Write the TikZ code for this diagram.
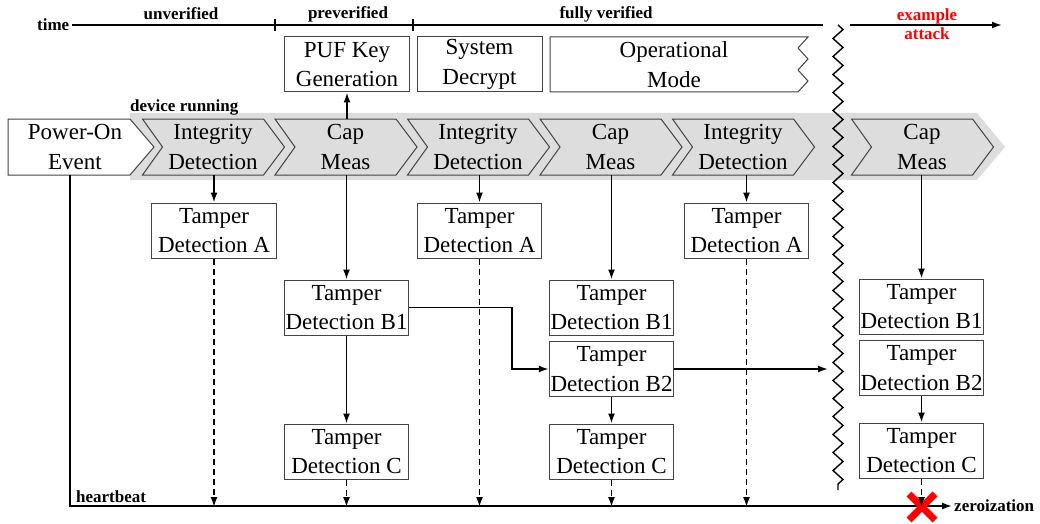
\documentclass[tikz,border=0pt]{standalone}
\usepackage{fontspec}
\setmainfont{Liberation Serif}
\usetikzlibrary{arrows.meta,decorations.pathmorphing}
\definecolor{band}{HTML}{DDDDDD}
\definecolor{edge}{HTML}{444444}
\begin{document}
\begin{tikzpicture}[x=1pt,y=-1pt,
  bigtxt/.style={font=\fontsize{23}{29.5}\selectfont, align=center, inner sep=0pt},
  tbox/.style={bigtxt, draw=edge, line width=1pt, fill=white, minimum width=124.5pt, minimum height=55pt},
  chtext/.style={bigtxt, minimum width=101pt, minimum height=56pt},
  lab/.style={font=\fontsize{17}{19}\selectfont\bfseries, inner sep=0pt, anchor=base},
  arr/.style={line width=1.7pt, -{Latex[length=10pt,width=7pt]}},
  darr/.style={arr, dash pattern=on 6pt off 4pt},
  chev/.style={draw=edge, line width=1pt, fill=band, line join=miter},
  outl/.style={draw=edge, line width=1pt, fill=white}
]
\useasboundingbox (0,0) rectangle (1040,524);

% grey band (device running)
\fill[band] (130,113) -- (977,113) -- (1005,147) -- (977,180) -- (130,180) -- cycle;
% chevrons
\foreach \c in {213,345.5,478,610.5,743,922}
  \draw[chev] (\c-70.5,119) -- (\c+50.5,119) -- (\c+71.5,147) -- (\c+50.5,175)
              -- (\c-70.5,175) -- (\c-50.5,147) -- cycle;
% power-on outline
\draw[outl] (8,119) -- (130,119) -- (154,147) -- (130,175) -- (8,175) -- cycle;

\node[bigtxt, minimum height=56pt] (pwr) at (75,147) {Power-On\\Event};
\node[chtext] (ch1) at (213,147) {Integrity\\Detection};
\node[chtext] (ch2) at (345.5,147) {Cap\\Meas};
\node[chtext] (ch3) at (478,147) {Integrity\\Detection};
\node[chtext] (ch4) at (610.5,147) {Cap\\Meas};
\node[chtext] (ch5) at (743,147) {Integrity\\Detection};
\node[chtext] (ch6) at (922,147) {Cap\\Meas};
\node[lab, anchor=base west] (dr) at (130,111) {device running};

% top boxes
\node[tbox] (puf) at (347,64.5) {PUF Key\\Generation};
\node[tbox, minimum width=125pt] (sys) at (479.5,64.5) {System\\Decrypt};
\draw[outl] (550,37) -- (808,37) -- (798,48) -- (808,59) -- (798,70) -- (808,81)
            -- (798,92) -- (550,92) -- cycle;
\node[bigtxt] (op) at (674,64.5) {Operational\\Mode};

% time axis
\node[lab, anchor=base west] (time) at (37,31) {time};
\coordinate (tend) at (823,25);
\coordinate (tstart2) at (850,25);
\coordinate (tarrow) at (1002,25);
\draw[line width=1.6pt] ([xshift=3pt]time.east |- tend) -- (tend);
\draw[line width=1.6pt] (275,19.5) -- (275,31) (413,19.5) -- (413,31);
\draw[arr] (tstart2) -- (tarrow);
\node[lab] (unv) at (181,20) {unverified};
\node[lab] (prev) at (348,18.5) {preverified};
\node[lab] (fullv) at (606,18.5) {fully verified};
\node[lab, anchor=center, align=center, text=red] (att) at (927,24.5) {example\\attack};

% tamper boxes
\node[tbox] (a1) at (214,230.5) {Tamper\\Detection A};
\node[tbox] (b1c2) at (346.5,307.5) {Tamper\\Detection B1};
\node[tbox] (cc2) at (346.5,451.5) {Tamper\\Detection C};
\node[tbox] (a3) at (479.5,230.5) {Tamper\\Detection A};
\node[tbox] (b1c4) at (611.5,307.5) {Tamper\\Detection B1};
\node[tbox] (b2c4) at (611.5,369) {Tamper\\Detection B2};
\node[tbox] (cc4) at (611.5,451.5) {Tamper\\Detection C};
\node[tbox] (a5) at (746.5,230.5) {Tamper\\Detection A};
\node[tbox] (b1c6) at (921.5,306.5) {Tamper\\Detection B1};
\node[tbox] (b2c6) at (921.5,368) {Tamper\\Detection B2};
\node[tbox] (cc6) at (921.5,450.5) {Tamper\\Detection C};

% heartbeat
\coordinate (hb) at (70,507);
\coordinate (brk) at (828,369);
\node[lab, anchor=west, inner sep=2pt] (zer) at (952,506) {zeroization};
\node[lab, anchor=base west] (hbl) at (76,502) {heartbeat};
\draw[arr] ([xshift=-5pt]pwr.south) |- (zer.west);

% solid connectors
\draw[arr] (a1.north |- ch1.south) -- (a1.north);
\draw[arr] (puf.south |- ch2.north) -- (puf.south);
\draw[arr] (b1c2.north |- ch2.south) -- (b1c2.north);
\draw[arr] (b1c2.south) -- (cc2.north);
\draw[arr] (b1c2.east) -- ++(103,0) |- (b2c4.west);
\draw[arr] (a3.north |- ch3.south) -- (a3.north);
\draw[arr] (b1c4.north |- ch4.south) -- (b1c4.north);
\draw[arr] (b2c4.south) -- (cc4.north);
\draw[arr] (b2c4.east) -- (brk);
\draw[arr] (a5.north |- ch5.south) -- (a5.north);
\draw[arr] (b1c6.north |- ch6.south) -- (b1c6.north);
\draw[arr] (b2c6.south) -- (cc6.north);

% dashed to heartbeat
\draw[darr] (a1.south) -- (a1.south |- hb);
\draw[darr] (cc2.south) -- (cc2.south |- hb);
\draw[darr] (a3.south) -- (a3.south |- hb);
\draw[darr] (cc4.south) -- (cc4.south |- hb);
\draw[darr] (a5.south) -- (a5.south |- hb);

% break line
\draw[line width=1.4pt, decorate, decoration={zigzag, segment length=18pt, amplitude=5pt}]
  (838,25) -- (838,490);

% red cross
\draw[red, line width=7pt] (909,494) -- (935,520) (909,520) -- (935,494);
\draw[darr] (cc6.south) -- (cc6.south |- hb);
\end{tikzpicture}
\end{document}
